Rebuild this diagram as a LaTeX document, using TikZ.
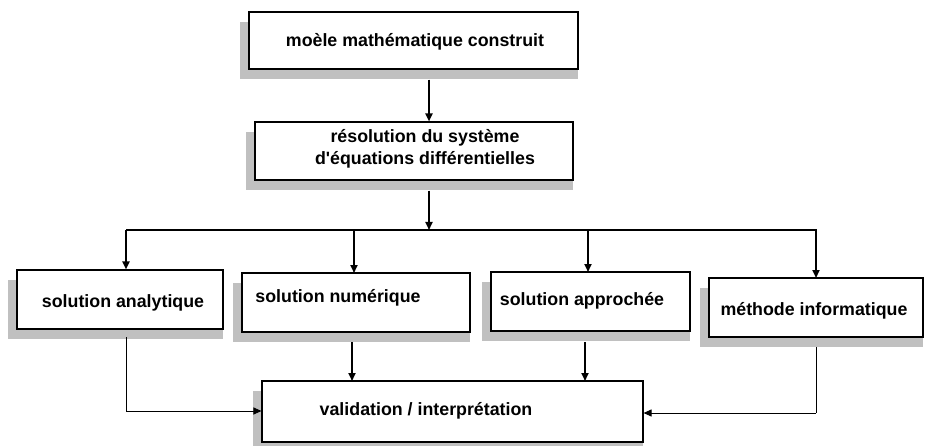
\documentclass[tikz,border=0pt]{standalone}
\usepackage{fontspec}
\setmainfont{Liberation Sans}
\usetikzlibrary{arrows.meta,calc}
\definecolor{shadowc}{RGB}{192,192,192}
\tikzset{
  box/.style={draw=black, line width=1.1pt, fill=white, inner sep=0pt},
  txt/.style={font=\bfseries\fontsize{17.8}{22}\selectfont, inner sep=0pt, align=center},
  conn/.style={line width=1pt},
  arr/.style={line width=1.8pt, -{Triangle[width=7pt,length=8pt]}},
  arrthin/.style={line width=1pt, -{Triangle[width=7pt,length=8pt]}},
}
\newcommand{\shadowof}[1]{\fill[shadowc] ([xshift=-9pt,yshift=-10pt]#1.north west) rectangle ([yshift=-10pt]#1.south east);}
\begin{document}
\begin{tikzpicture}[x=1pt,y=-1pt]
\useasboundingbox (0,0) rectangle (925,446);
% box positions (invisible anchors for shadows)
\node[minimum width=329pt, minimum height=57pt, inner sep=0pt] (m0) at (413.5,40.5) {};
\node[minimum width=318pt, minimum height=58pt, inner sep=0pt] (r0) at (414,151) {};
\node[minimum width=206pt, minimum height=59pt, inner sep=0pt] (a0) at (120,299.5) {};
\node[minimum width=228pt, minimum height=59pt, inner sep=0pt] (n0) at (356,302.5) {};
\node[minimum width=199pt, minimum height=59pt, inner sep=0pt] (p0) at (590.5,301.5) {};
\node[minimum width=214pt, minimum height=59pt, inner sep=0pt] (i0) at (816,307.5) {};
\node[minimum width=381pt, minimum height=61pt, inner sep=0pt] (v0) at (452.5,411.5) {};
% shadows
\shadowof{m0}\shadowof{r0}\shadowof{a0}\shadowof{n0}\shadowof{p0}\shadowof{i0}\shadowof{v0}
% boxes
\node[box, minimum width=329pt, minimum height=57pt] (m) at (m0) {};
\node[box, minimum width=318pt, minimum height=58pt] (r) at (r0) {};
\node[box, minimum width=206pt, minimum height=59pt] (a) at (a0) {};
\node[box, minimum width=228pt, minimum height=59pt] (n) at (n0) {};
\node[box, minimum width=199pt, minimum height=59pt] (p) at (p0) {};
\node[box, minimum width=214pt, minimum height=59pt] (i) at (i0) {};
\node[box, minimum width=381pt, minimum height=61pt] (v) at (v0) {};
% texts
\node[txt] (tm) at (415,42) {moèle mathématique construit};
\node[txt] (tr) at (425,149) {résolution du système\\d\textquotesingle équations différentielles};
\node[txt] (ta) at (123,303) {solution analytique};
\node[txt] (tn) at (338,298) {solution numérique};
\node[txt] (tp) at (582,301) {solution approchée};
\node[txt] (ti) at (814,311) {méthode informatique};
\node[txt] (tv) at (426,411) {validation / interprétation};
% coordinates
\coordinate (h) at (429,230);
\coordinate (hl) at (126,230);
\coordinate (hr) at (817,230);
\coordinate (ba) at (126,411);
\coordinate (bi) at (816,413);
% connectors
\draw[arr] (m.south -| h) ++(0,10) -- (h |- r.north);
\draw[arr] (r.south -| h) ++(0,10) -- (h);
\draw[conn] (hl) -- (hr);
\draw[arr] (hl) -- (hl |- a.north);
\draw[arr] (354,230) -- (354,273);
\draw[arr] (588,230) -- (588,272);
\draw[arr] (816,230) -- (816,278);
\draw[conn] (126,337) -- (ba);
\draw[arrthin] (ba) -- (v.west |- ba);
\draw[arr] (352,342) -- (352,381);
\draw[arr] (585,342) -- (585,381);
\draw[conn] (816,347) -- (bi);
\draw[arrthin] (bi) -- (v.east |- bi);
\end{tikzpicture}
\end{document}
